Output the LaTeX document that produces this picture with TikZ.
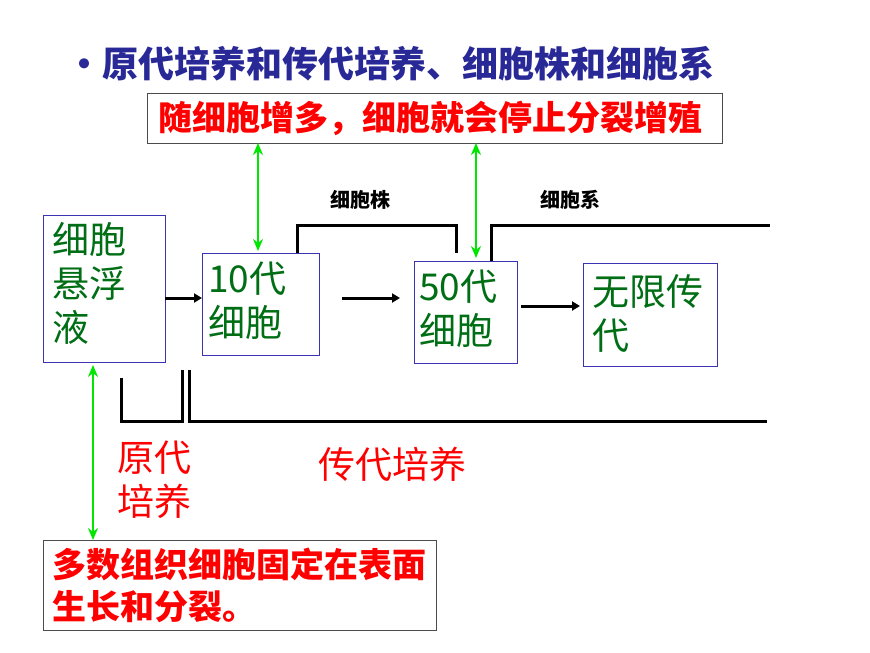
\documentclass[tikz,border=0pt]{standalone}
\usepackage{fontspec}
\setmainfont{Noto Sans CJK SC}
\usetikzlibrary{arrows.meta}
\definecolor{dg}{RGB}{0,110,20}
\definecolor{bl}{RGB}{60,50,180}
\definecolor{hd}{RGB}{40,40,150}
\tikzset{bx/.style={draw=bl,line width=1pt,inner sep=0pt},
gtext/.style={text=dg,font=\fontsize{37}{44}\selectfont,align=left,inner sep=0pt},
rtext/.style={text=red,font=\bfseries\fontsize{34}{42}\selectfont,align=left,inner sep=0pt},
garr/.style={draw={rgb,255:red,0;green,230;blue,0},line width=2pt,{Stealth[length=12pt,width=10pt]}-{Stealth[length=12pt,width=10pt]}},
barr/.style={line width=3pt,-{Triangle[length=8pt,width=9pt]}},
brk/.style={line width=3pt}}
\begin{document}
\begin{tikzpicture}[x=1pt,y=-1pt]
\useasboundingbox (0,0) rectangle (870,653);
\node[anchor=west,text=hd,font=\bfseries\fontsize{36}{40}\selectfont,inner sep=0pt] (hd) at (66,64) {•原代培养和传代培养、细胞株和细胞系};
\draw[draw=black!70] (147,93) rectangle (722,143);
\node[rtext] (top) at (430,118) {随细胞增多，细胞就会停止分裂增殖};
\draw[bx] (43,215) rectangle (165,362);
\node[gtext,anchor=north west] (a) at (52,222) {细胞\\悬浮\\液};
\draw[bx] (202,253) rectangle (319,355);
\node[gtext,anchor=north west] (b) at (208,262) {10代\\细胞};
\draw[bx] (414,261) rectangle (517,363);
\node[gtext,anchor=north west] (c) at (419,270) {50代\\细胞};
\draw[bx] (583,263) rectangle (717,366);
\node[gtext,anchor=north west] (d) at (592,274) {无限传\\代};
\draw[draw=black!70] (43,540) rectangle (436,630);
\node[rtext,anchor=north west] (bot) at (52,548) {多数组织细胞固定在表面\\生长和分裂。};
\coordinate (g1a) at (258,143); \coordinate (g1b) at (258,251);
\coordinate (g2a) at (476,143); \coordinate (g2b) at (476,258);
\coordinate (g3a) at (93,365); \coordinate (g3b) at (93,540);
\draw[garr] (g1a) -- (g1b);
\draw[garr] (g2a) -- (g2b);
\draw[garr] (g3a) -- (g3b);
\coordinate (p1) at (165,298); \coordinate (p2) at (202,298);
\coordinate (p3) at (342,298); \coordinate (p4) at (400,298);
\coordinate (p5) at (521,306); \coordinate (p6) at (580,306);
\draw[barr] (p1) -- (p2);
\draw[barr] (p3) -- (p4);
\draw[barr] (p5) -- (p6);
\draw[brk] (297,253) -- (297,225) -- (456,225) -- (456,253);
\draw[brk] (491,261) -- (491,225) -- (770,225);
\draw[brk] (121,378) -- (121,421) -- (182,421) -- (182,370);
\draw[brk] (189,370) -- (189,421) -- (767,421);
\node[font=\bfseries\fontsize{20}{24}\selectfont] (l1) at (360,200) {细胞株};
\node[font=\bfseries\fontsize{20}{24}\selectfont] (l2) at (570,200) {细胞系};
\node[text=red,font=\fontsize{37}{44}\selectfont,align=left,inner sep=0pt] (l3) at (154,480) {原代\\培养};
\node[text=red,font=\fontsize{37}{44}\selectfont,inner sep=0pt] (l4) at (392,464) {传代培养};
\end{tikzpicture}
\end{document}
